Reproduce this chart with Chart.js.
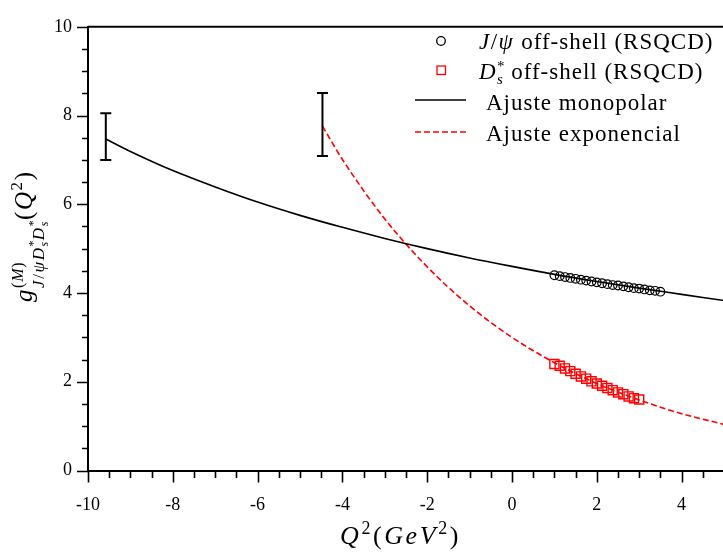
<!DOCTYPE html>
<html>
<head>
<meta charset="utf-8">
<script src="https://cdn.jsdelivr.net/npm/chart.js@4.4.1/dist/chart.umd.min.js"></script>
<style>
  html, body { margin: 0; padding: 0; background: #fff; overflow: hidden; width: 723px; height: 552px; }
  canvas { display: block; }
</style>
</head>
<body>
<canvas id="coupling" width="724" height="552"></canvas>
<script>
// Monopolar fit, sampled along Q^2 (GeV^2)
const monoX = [-9.58, -9, -8, -7, -6, -5, -4, -3, -2, -1, 0, 1, 2, 3, 4, 5];
const monoY = [7.47, 7.19, 6.76, 6.39, 6.05, 5.75, 5.48, 5.23, 5.00, 4.79, 4.60, 4.42, 4.26, 4.11, 3.97, 3.83];

// Exponential fit
const expoX = [-4.47, -4, -3, -2, -1, 0, 1, 2, 3, 4, 5];
const expoY = [7.76, 7.01, 5.67, 4.59, 3.71, 3.00, 2.43, 1.96, 1.59, 1.28, 1.04];

// QCDSR points, J/psi off-shell
const jpsiX = [1.0, 1.125, 1.25, 1.375, 1.5, 1.625, 1.75, 1.875, 2.0, 2.125, 2.25,
               2.375, 2.5, 2.625, 2.75, 2.875, 3.0, 3.125, 3.25, 3.375, 3.5];
const jpsiY = [4.40, 4.38, 4.36, 4.34, 4.32, 4.30, 4.28, 4.26, 4.24, 4.22, 4.20,
               4.18, 4.17, 4.15, 4.13, 4.11, 4.10, 4.08, 4.06, 4.05, 4.03];

// QCDSR points, D_s* off-shell
const dsX = [1.0, 1.125, 1.25, 1.375, 1.5, 1.625, 1.75, 1.875, 2.0,
             2.125, 2.25, 2.375, 2.5, 2.625, 2.75, 2.875, 3.0];
const dsY = [2.40, 2.36, 2.30, 2.24, 2.18, 2.12, 2.07, 2.01, 1.96,
             1.91, 1.86, 1.81, 1.76, 1.72, 1.67, 1.63, 1.60];

// coupling at the poles (Q^2 = -m^2) with uncertainty band
const poleX = [-9.58, -4.47];
const poleLow = [7.00, 7.09];
const poleHigh = [8.05, 8.51];

const xTicks = [-10, -8, -6, -4, -2, 0, 2, 4];
const yTicks = [0, 2, 4, 6, 8, 10];
const X_MIN = -10, X_MAX = 5, Y_MIN = 0, Y_MAX = 10, MINOR = 0.5;

const SERIF = '"Liberation Serif", "DejaVu Serif", serif';
const fnt = (size, italic) => (italic ? 'italic ' : '') + size + 'px ' + SERIF;

// draws a run of mixed text pieces; "up" raises a piece, "hold" keeps the pen in place
function drawRuns(ctx, runs, x, y, spacing) {
  let pen = x;
  for (const r of runs) {
    ctx.font = fnt(r.s, r.i);
    ctx.fillText(r.t, pen, y - (r.up || 0));
    if (!r.hold) pen += ctx.measureText(r.t).width + (spacing || 0);
  }
  return pen - x;
}

const pts = (xs, ys) => xs.map((x, i) => ({ x, y: ys[i] }));

const frame = {
  id: 'frame',
  afterDatasetsDraw(chart) {
    const { ctx, scales: { x, y } } = chart;
    ctx.save();
    ctx.strokeStyle = '#000';
    ctx.lineWidth = 2;
    ctx.beginPath();
    for (let i = 0; i < poleX.length; i++) {
      const px = x.getPixelForValue(poleX[i]);
      const lo = y.getPixelForValue(poleLow[i]);
      const hi = y.getPixelForValue(poleHigh[i]);
      ctx.moveTo(px, lo); ctx.lineTo(px, hi);
      ctx.moveTo(px - 5.5, lo); ctx.lineTo(px + 5.5, lo);
      ctx.moveTo(px - 5.5, hi); ctx.lineTo(px + 5.5, hi);
    }
    ctx.stroke();
    ctx.restore();
  },
  afterDraw(chart) {
    const { ctx, chartArea: a, scales: { x, y } } = chart;
    ctx.save();
    ctx.strokeStyle = '#000';
    ctx.fillStyle = '#000';

    // top edge of the frame
    ctx.lineWidth = 2;
    ctx.beginPath();
    ctx.moveTo(a.left, a.top); ctx.lineTo(a.right + 2, a.top);
    ctx.stroke();

    // major and minor tick marks
    ctx.lineWidth = 1.6;
    ctx.beginPath();
    const nx = Math.round((X_MAX - X_MIN) / MINOR);
    for (let i = 0; i <= nx; i++) {
      const v = X_MIN + i * MINOR;
      const px = Math.round(x.getPixelForValue(v)) + 0.5;
      const len = xTicks.includes(v) ? 12 : 7.5;
      ctx.moveTo(px, a.bottom); ctx.lineTo(px, a.bottom + len);
    }
    const ny = Math.round((Y_MAX - Y_MIN) / MINOR);
    for (let i = 0; i <= ny; i++) {
      const v = Y_MIN + i * MINOR;
      const py = Math.round(y.getPixelForValue(v)) + 0.5;
      const len = yTicks.includes(v) ? 11 : 6;
      ctx.moveTo(a.left, py); ctx.lineTo(a.left - len, py);
    }
    ctx.stroke();

    ctx.textBaseline = 'alphabetic';
    ctx.textAlign = 'left';

    // x title: Q^2(GeV^2)
    const xTitle = [
      { t: 'Q', s: 26, i: true }, { t: '2', s: 18, up: 10 },
      { t: '(', s: 26 }, { t: 'G', s: 26, i: true }, { t: 'e', s: 26, i: true },
      { t: 'V', s: 26, i: true }, { t: '2', s: 18, up: 10 }, { t: ')', s: 26 }
    ];
    drawRuns(ctx, xTitle, 340, 544, 2.6);

    // y title: g^(M)_{J/psi Ds* Ds*}(Q^2), reading upwards
    const yTitle = [
      { t: 'g', s: 25, i: true },
      { t: 'J', s: 17, i: true, up: -12 }, { t: '/', s: 17, up: -12 }, { t: 'ψ', s: 17, i: true, up: -12 },
      { t: 'D', s: 17, i: true, up: -12 }, { t: '*', s: 12, up: -5, hold: true }, { t: 's', s: 12, i: true, up: -16 },
      { t: 'D', s: 17, i: true, up: -12 }, { t: '*', s: 12, up: -5, hold: true }, { t: 's', s: 12, i: true, up: -16 },
      { t: '(', s: 25 }, { t: 'Q', s: 25, i: true }, { t: '2', s: 17, up: 10 }, { t: ')', s: 25 }
    ];
    ctx.save();
    ctx.translate(32, 302);
    ctx.rotate(-Math.PI / 2);
    drawRuns(ctx, yTitle, 0, 0, 1.6);
    // superscript (M) sits over the start of the subscript
    ctx.font = fnt(25, true);
    const gw = ctx.measureText('g').width + 1.6;
    drawRuns(ctx, [{ t: '(', s: 16 }, { t: 'M', s: 16, i: true }, { t: ')', s: 16 }], gw, -9, 0.8);
    ctx.restore();

    // legend
    ctx.lineWidth = 1.3;
    ctx.beginPath();
    ctx.arc(441, 41, 4.3, 0, Math.PI * 2);
    ctx.stroke();
    ctx.strokeStyle = '#ff0000';
    ctx.strokeRect(437, 66, 8.5, 8.5);
    ctx.lineWidth = 1.7;
    ctx.strokeStyle = '#000';
    ctx.beginPath();
    ctx.moveTo(415, 100); ctx.lineTo(466, 100);
    ctx.stroke();
    ctx.strokeStyle = '#ff0000';
    ctx.setLineDash([6, 3]);
    ctx.beginPath();
    ctx.moveTo(415, 132); ctx.lineTo(466, 132);
    ctx.stroke();
    ctx.setLineDash([]);

    ctx.letterSpacing = '1px';
    drawRuns(ctx, [{ t: 'J', s: 23, i: true }, { t: '/', s: 23 }, { t: 'ψ', s: 23, i: true },
                   { t: ' off-shell (RSQCD)', s: 23 }], 479, 49, 0.5);
    drawRuns(ctx, [{ t: 'D', s: 23, i: true }, { t: '*', s: 15, up: 8, hold: true },
                   { t: 's', s: 15, i: true, up: -5 }, { t: ' off-shell (RSQCD)', s: 23 }], 479, 79, 0.5);
    drawRuns(ctx, [{ t: 'Ajuste monopolar', s: 23 }], 486, 110, 0);
    drawRuns(ctx, [{ t: 'Ajuste exponencial', s: 23 }], 486, 141, 0);
    ctx.restore();
  }
};

new Chart(document.getElementById('coupling'), {
  type: 'scatter',
  data: {
    datasets: [
      {
        label: 'Ajuste monopolar',
        data: pts(monoX, monoY),
        showLine: true,
        borderColor: '#000',
        borderWidth: 1.6,
        pointRadius: 0,
        cubicInterpolationMode: 'monotone'
      },
      {
        label: 'Ajuste exponencial',
        data: pts(expoX, expoY),
        showLine: true,
        borderColor: '#ff0000',
        borderWidth: 1.6,
        borderDash: [6, 3],
        pointRadius: 0,
        cubicInterpolationMode: 'monotone'
      },
      {
        label: 'J/psi off-shell (RSQCD)',
        data: pts(jpsiX, jpsiY),
        pointStyle: 'circle',
        pointRadius: 4.3,
        pointBorderWidth: 1.2,
        borderColor: '#000',
        backgroundColor: 'rgba(0,0,0,0)'
      },
      {
        label: 'Ds* off-shell (RSQCD)',
        data: pts(dsX, dsY),
        pointStyle: 'rect',
        pointRadius: 6.4,
        pointBorderWidth: 1.4,
        borderColor: '#ff0000',
        backgroundColor: 'rgba(0,0,0,0)'
      }
    ]
  },
  options: {
    responsive: false,
    animation: false,
    events: [],
    layout: { autoPadding: false, padding: { top: 15, left: 0, right: 0, bottom: 0 } },
    plugins: { legend: { display: false }, tooltip: { enabled: false } },
    scales: {
      x: {
        type: 'linear',
        min: X_MIN,
        max: X_MAX,
        afterBuildTicks: s => { s.ticks = xTicks.map(v => ({ value: v })); },
        afterFit: s => { s.height = 81.5; },
        grid: { display: true, drawOnChartArea: false, drawTicks: false },
        border: { display: true, color: '#000', width: 2 },
        ticks: { color: '#000', padding: 24, maxRotation: 0, font: { family: SERIF, size: 18 } }
      },
      y: {
        type: 'linear',
        min: Y_MIN,
        max: Y_MAX,
        afterBuildTicks: s => { s.ticks = yTicks.map(v => ({ value: v })); },
        afterFit: s => { s.width = 88; },
        grid: { display: true, drawOnChartArea: false, drawTicks: false },
        border: { display: true, color: '#000', width: 2 },
        ticks: { color: '#000', padding: 16, font: { family: SERIF, size: 18 } }
      }
    }
  },
  plugins: [frame]
});
</script>
</body>
</html>
